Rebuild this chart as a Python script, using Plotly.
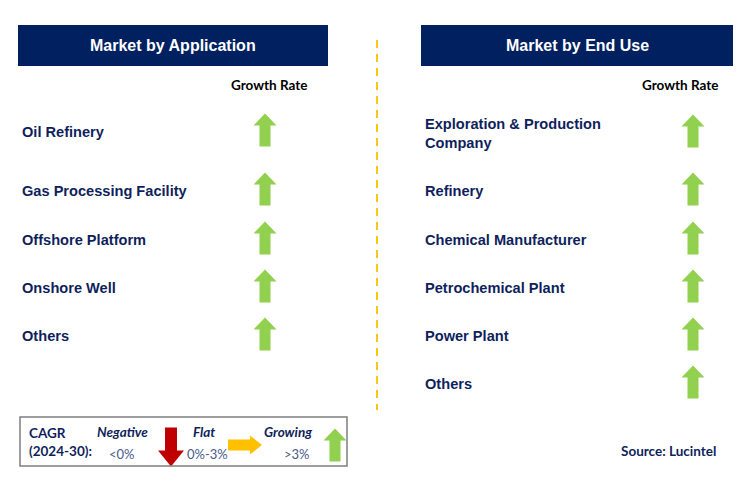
import plotly.graph_objects as go

# data
app_title = "Market by Application"
app_labels = ["Oil Refinery", "Gas Processing Facility", "Offshore Platform", "Onshore Well", "Others"]
app_growth = ["growing", "growing", "growing", "growing", "growing"]

enduse_title = "Market by End Use"
enduse_labels = ["Exploration & Production<br>Company", "Refinery", "Chemical Manufacturer",
                 "Petrochemical Plant", "Power Plant", "Others"]
enduse_growth = ["growing", "growing", "growing", "growing", "growing", "growing"]

legend_names = ["Negative", "Flat", "Growing"]
legend_ranges = ["<0%", "0%-3%", ">3%"]
legend_kinds = ["negative", "flat", "growing"]

NAVY = "#002060"
TEXT = "#0F1F5C"
ARROW_COL = {"growing": "#92D050", "flat": "#FFC000", "negative": "#C00000"}
ARIAL = "Liberation Sans, Arial"
CALIBRI = "Lato, Calibri, sans-serif"

fig = go.Figure()


def arrow(kind, cx, cy, size=1.0):
    # polygon for an arrow centred on (cx, cy)
    if kind == "growing":
        w, sw, h, hh = 23 * size, 11 * size, 33 * size, 12 * size
        xs = [cx, cx + w / 2, cx + sw / 2, cx + sw / 2, cx - sw / 2, cx - sw / 2, cx - w / 2, cx]
        ys = [cy - h / 2, cy - h / 2 + hh, cy - h / 2 + hh, cy + h / 2, cy + h / 2, cy - h / 2 + hh, cy - h / 2 + hh, cy - h / 2]
    elif kind == "negative":
        w, sw, h, hh = 26 * size, 12 * size, 39 * size, 16 * size
        xs = [cx, cx + w / 2, cx + sw / 2, cx + sw / 2, cx - sw / 2, cx - sw / 2, cx - w / 2, cx]
        ys = [cy + h / 2, cy + h / 2 - hh, cy + h / 2 - hh, cy - h / 2, cy - h / 2, cy + h / 2 - hh, cy + h / 2 - hh, cy + h / 2]
    else:
        w, sw, h, hh = 34 * size, 11 * size, 19 * size, 12 * size
        xs = [cx + w / 2, cx + w / 2 - hh, cx + w / 2 - hh, cx - w / 2, cx - w / 2, cx + w / 2 - hh, cx + w / 2 - hh, cx + w / 2]
        ys = [cy, cy - h / 2, cy - sw / 2, cy - sw / 2, cy + sw / 2, cy + sw / 2, cy + h / 2, cy]
    fig.add_trace(go.Scatter(x=xs, y=ys, fill="toself", fillcolor=ARROW_COL[kind],
                             line=dict(width=0, color=ARROW_COL[kind]), mode="lines",
                             hoverinfo="skip", showlegend=False))


def panel(x0, x1, title, labels, growth, row_y, arrow_x, gr_x):
    fig.add_shape(type="rect", x0=x0, x1=x1, y0=25, y1=66, fillcolor=NAVY, line_width=0, layer="below")
    fig.add_annotation(x=(x0 + x1) / 2, y=45, text="<b>%s</b>" % title, showarrow=False,
                       font=dict(family=ARIAL, size=16, color="white"))
    fig.add_annotation(x=gr_x, y=85, text="<b>Growth Rate</b>", showarrow=False,
                       font=dict(family=CALIBRI, size=13.5, color="black"))
    for lab, g, y in zip(labels, growth, row_y):
        fig.add_annotation(x=x0 + 2, y=y, text="<b>%s</b>" % lab, showarrow=False, xanchor="left",
                           align="left", font=dict(family=ARIAL, size=14.6, color=TEXT))
        arrow(g, arrow_x, y - 2)


panel(18, 328, app_title, app_labels, app_growth, [132, 191, 240, 288, 336], 265, 269)
panel(421, 733, enduse_title, enduse_labels, enduse_growth, [133, 191, 240, 288, 336, 384], 693, 680)

# divider
fig.add_shape(type="line", x0=377, x1=377, y0=40, y1=410,
              line=dict(color="#FFC000", width=1.8, dash="8px,6px"))

# legend box
fig.add_shape(type="rect", x0=20, x1=347, y0=417, y1=466, line=dict(color="#7F7F7F", width=1.5))
fig.add_annotation(x=27, y=442, text="<b>CAGR<br>(2024-30):</b>", showarrow=False, xanchor="left",
                   align="left", font=dict(family=CALIBRI, size=13.5, color=TEXT))
name_x = [122, 204, 288]
range_x = [122, 207, 297]
arrow_pos = [(171, 447), (245, 445), (335, 445)]
for nm, rg, k, nx, rx, ap in zip(legend_names, legend_ranges, legend_kinds, name_x, range_x, arrow_pos):
    fig.add_annotation(x=nx, y=432, text="<b><i>%s</i></b>" % nm, showarrow=False,
                       font=dict(family=CALIBRI, size=13.5, color=TEXT))
    fig.add_annotation(x=rx, y=454, text=rg, showarrow=False,
                       font=dict(family=CALIBRI, size=13, color="#4A5A8A"))
    arrow(k, ap[0], ap[1])

fig.add_annotation(x=668, y=451, text="<b>Source: Lucintel</b>", showarrow=False,
                   font=dict(family=CALIBRI, size=13.5, color=TEXT))

# page body has an 8px margin, so the figure is placed at (8, 8)
fig.update_layout(width=744, height=486, margin=dict(l=0, r=0, t=0, b=0),
                  paper_bgcolor="white", plot_bgcolor="white",
                  xaxis=dict(range=[8, 752], visible=False, fixedrange=True),
                  yaxis=dict(range=[494, 8], visible=False, fixedrange=True))

fig.write_html("out.html")
